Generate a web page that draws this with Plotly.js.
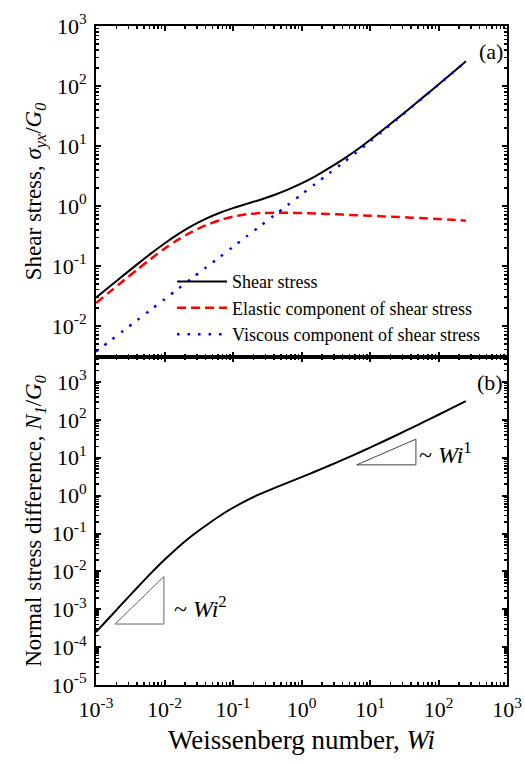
<!DOCTYPE html>
<html>
<head>
<meta charset="utf-8">
<script src="https://cdn.plot.ly/plotly-3.0.1.min.js"></script>
<style>html,body{margin:0;padding:0;background:#fff;}#chart{width:525px;height:763px;}</style>
</head>
<body>
<div id="chart"></div>
<script>
// Weissenberg number grid
const wi = [0.001, 0.001585, 0.002512, 0.003981, 0.00631, 0.01, 0.01585, 0.02512, 0.03981, 0.0631,
            0.1, 0.1585, 0.2512, 0.3981, 0.631, 1, 1.585, 2.512, 3.981, 6.31,
            10, 15.85, 25.12, 39.81, 63.1, 100, 158.5, 251.2];
// (a) shear stress and its components, sigma_yx / G0
const shearStress = [0.02951, 0.04529, 0.06934, 0.1059, 0.1600, 0.2366, 0.3388, 0.4656, 0.6095, 0.7621,
                     0.9183, 1.0814, 1.2676, 1.5170, 1.8664, 2.366, 3.0974, 4.25, 5.91, 8.463,
                     12.569, 18.95, 28.83, 44.29, 68.38, 106.0, 165.0, 257.6];
const elasticShear = [0.02399, 0.03681, 0.05649, 0.08630, 0.1306, 0.1932, 0.2741, 0.3698, 0.4721, 0.5728,
                      0.6607, 0.7244, 0.7586, 0.7691, 0.7674, 0.7603, 0.7464, 0.7311, 0.7161, 0.6998,
                      0.6839, 0.6683, 0.6531, 0.6368, 0.6209, 0.6039, 0.5861, 0.5675];
const viscousShear = [0.003715, 0.005559, 0.008298, 0.012417, 0.01858, 0.02773, 0.04150, 0.06209, 0.09290, 0.1387,
                      0.2075, 0.3105, 0.4634, 0.6934, 1.0375, 1.5524, 2.317, 3.467, 5.188, 7.762,
                      11.885, 18.28, 28.18, 43.65, 67.76, 105.4, 164.4, 257.0];
// (b) first normal stress difference, N1 / G0
const normalStress = [2.512e-4, 6.166e-4, 1.5136e-3, 3.698e-3, 8.872e-3, 0.02032, 0.04365, 0.08710, 0.1607, 0.2858,
                      0.4786, 0.7516, 1.1169, 1.5849, 2.208, 3.076, 4.325, 6.137, 8.790, 12.706,
                      18.535, 27.29, 40.55, 60.53, 90.78, 136.8, 207.0, 314.8];
// slope triangles in panel (b)
const tri2X = [0.0019, 0.0098, 0.0098, 0.0019];
const tri2Y = [4.07e-4, 4.07e-4, 7.3e-3, 4.07e-4];
const tri1X = [6.4, 46.8, 46.8, 6.4];
const tri1Y = [6.5, 6.5, 31, 6.5];
// tick labels
const xTickVals = [1e-3, 1e-2, 1e-1, 1, 10, 100, 1000];
const xTickText = ['10<sup>-3</sup>', '10<sup>-2</sup>', '10<sup>-1</sup>', '10<sup>0</sup>', '10<sup>1</sup>', '10<sup>2</sup>', '10<sup>3</sup>'];
const yaTickVals = [1e-2, 1e-1, 1, 10, 100, 1000];
const yaTickText = ['10<sup>-2</sup>', '10<sup>-1</sup>', '10<sup>0</sup>', '10<sup>1</sup>', '10<sup>2</sup>', '10<sup>3</sup>'];
const ybTickVals = [1e-5, 1e-4, 1e-3, 1e-2, 1e-1, 1, 10, 100, 1000];
const ybTickText = ['10<sup>-5</sup>', '10<sup>-4</sup>', '10<sup>-3</sup>', '10<sup>-2</sup>', '10<sup>-1</sup>', '10<sup>0</sup>', '10<sup>1</sup>', '10<sup>2</sup>', '10<sup>3</sup>'];

function minorVals(lo, hi) {
  const out = [];
  for (let e = lo; e < hi; e++) for (let m = 2; m <= 9; m++) out.push(m * Math.pow(10, e));
  return out;
}

const FONT = 'Liberation Serif, Times New Roman, serif';
const SPL = {shape: 'spline', smoothing: 0.8};

const traces = [
  {x: wi, y: shearStress, xaxis: 'x', yaxis: 'y', mode: 'lines', name: 'Shear stress',
   line: Object.assign({color: '#000', width: 2}, SPL)},
  {x: wi, y: elasticShear, xaxis: 'x', yaxis: 'y', mode: 'lines', name: 'Elastic component of shear stress',
   line: Object.assign({color: '#ff0000', width: 2.5, dash: '9px,5px'}, SPL)},
  {x: wi, y: viscousShear, xaxis: 'x', yaxis: 'y', mode: 'lines', name: 'Viscous component of shear stress',
   line: Object.assign({color: '#0000ff', width: 2.5, dash: '2.5px,8px'}, SPL)},
  {x: wi, y: normalStress, xaxis: 'x2', yaxis: 'y2', mode: 'lines', showlegend: false,
   line: Object.assign({color: '#000', width: 2}, SPL)},
  {x: tri2X, y: tri2Y, xaxis: 'x2', yaxis: 'y2', mode: 'lines', showlegend: false,
   line: {color: '#666', width: 1}},
  {x: tri1X, y: tri1Y, xaxis: 'x2', yaxis: 'y2', mode: 'lines', showlegend: false,
   line: {color: '#444', width: 1}}
];

const axisCommon = {
  type: 'log', showline: true, linecolor: '#000', linewidth: 2, mirror: 'ticks',
  ticks: 'inside', ticklen: 5, tickwidth: 2, tickcolor: '#000', showgrid: false, zeroline: false,
  tickfont: {family: FONT, size: 22, color: '#000'}, tickmode: 'array',
  minor: {ticks: 'inside', ticklen: 3, tickwidth: 1.5, tickcolor: '#000', showgrid: false}
};
// outside stubs so that major ticks cross the frame
const stubCommon = {
  type: 'log', showline: false, mirror: 'ticks', ticks: 'outside', ticklen: 3, tickwidth: 2,
  tickcolor: '#000', showgrid: false, zeroline: false, showticklabels: false, tickmode: 'array'
};

const layout = {
  width: 525, height: 763,
  margin: {l: 96, r: 18, t: 26, b: 78},
  paper_bgcolor: '#fff', plot_bgcolor: '#fff',
  font: {family: FONT, color: '#000'},
  showlegend: true,
  legend: {x: 0.185, y: 0.64, xanchor: 'left', yanchor: 'top', bgcolor: 'rgba(0,0,0,0)',
    font: {family: FONT, size: 18, color: '#000'}, itemwidth: 50, tracegroupgap: 0},
  xaxis: Object.assign({}, axisCommon, {domain: [0, 1], anchor: 'y', range: [-3, 3],
    tickvals: xTickVals, ticktext: xTickText, showticklabels: false,
    minor: Object.assign({}, axisCommon.minor, {tickmode: 'array', tickvals: minorVals(-3, 3)})}),
  yaxis: Object.assign({}, axisCommon, {domain: [0.4977, 1], anchor: 'x', range: [-2.52, 3],
    tickvals: yaTickVals, ticktext: yaTickText, ticklabelstandoff: 3,
    minor: Object.assign({}, axisCommon.minor, {tickmode: 'array', tickvals: minorVals(-3, 3)}),
    title: {text: 'Shear stress, <i>σ</i><sub><i>yx</i></sub>/<i>G</i><sub><i>0</i></sub>', font: {family: FONT, size: 23}, standoff: 4}}),
  xaxis2: Object.assign({}, axisCommon, {domain: [0, 1], anchor: 'y2', range: [-3, 3],
    tickvals: xTickVals, ticktext: xTickText, ticklabelstandoff: 4,
    minor: Object.assign({}, axisCommon.minor, {tickmode: 'array', tickvals: minorVals(-3, 3)}),
    title: {text: 'Weissenberg number, <i>Wi</i>', font: {family: FONT, size: 27}, standoff: 9}}),
  yaxis2: Object.assign({}, axisCommon, {domain: [0, 0.4977], anchor: 'x2', range: [-5, 3.66],
    tickvals: ybTickVals, ticktext: ybTickText, ticklabelstandoff: 3,
    minor: Object.assign({}, axisCommon.minor, {tickmode: 'array', tickvals: minorVals(-5, 4)}),
    title: {text: 'Normal stress difference, <i>N</i><sub><i>1</i></sub>/<i>G</i><sub><i>0</i></sub>', font: {family: FONT, size: 23}, standoff: 4}}),
  xaxis3: Object.assign({}, stubCommon, {overlaying: 'x', anchor: 'y', range: [-3, 3], tickvals: xTickVals}),
  xaxis4: Object.assign({}, stubCommon, {overlaying: 'x2', anchor: 'y2', range: [-3, 3], tickvals: xTickVals}),
  yaxis3: Object.assign({}, stubCommon, {overlaying: 'y', anchor: 'x', range: [-2.52, 3], tickvals: yaTickVals}),
  yaxis4: Object.assign({}, stubCommon, {overlaying: 'y2', anchor: 'x2', range: [-5, 3.66], tickvals: ybTickVals}),
  annotations: [
    {xref: 'paper', yref: 'paper', x: 0.995, y: 0.962, xanchor: 'right', yanchor: 'middle', showarrow: false,
     text: '(a)', font: {family: FONT, size: 22, color: '#000'}},
    {xref: 'paper', yref: 'paper', x: 0.995, y: 0.459, xanchor: 'right', yanchor: 'middle', showarrow: false,
     text: '(b)', font: {family: FONT, size: 22, color: '#000'}},
    {xref: 'x2', yref: 'y2', x: -1.89, y: -2.93, xanchor: 'left', yanchor: 'middle', showarrow: false,
     text: '~ <i>Wi</i><sup>2</sup>', font: {family: FONT, size: 24, color: '#000'}},
    {xref: 'x2', yref: 'y2', x: 1.69, y: 1.13, xanchor: 'left', yanchor: 'middle', showarrow: false,
     text: '~ <i>Wi</i><sup>1</sup>', font: {family: FONT, size: 24, color: '#000'}}
  ]
};

Plotly.newPlot('chart', traces, layout, {displayModeBar: false, staticPlot: true});
</script>
</body>
</html>
